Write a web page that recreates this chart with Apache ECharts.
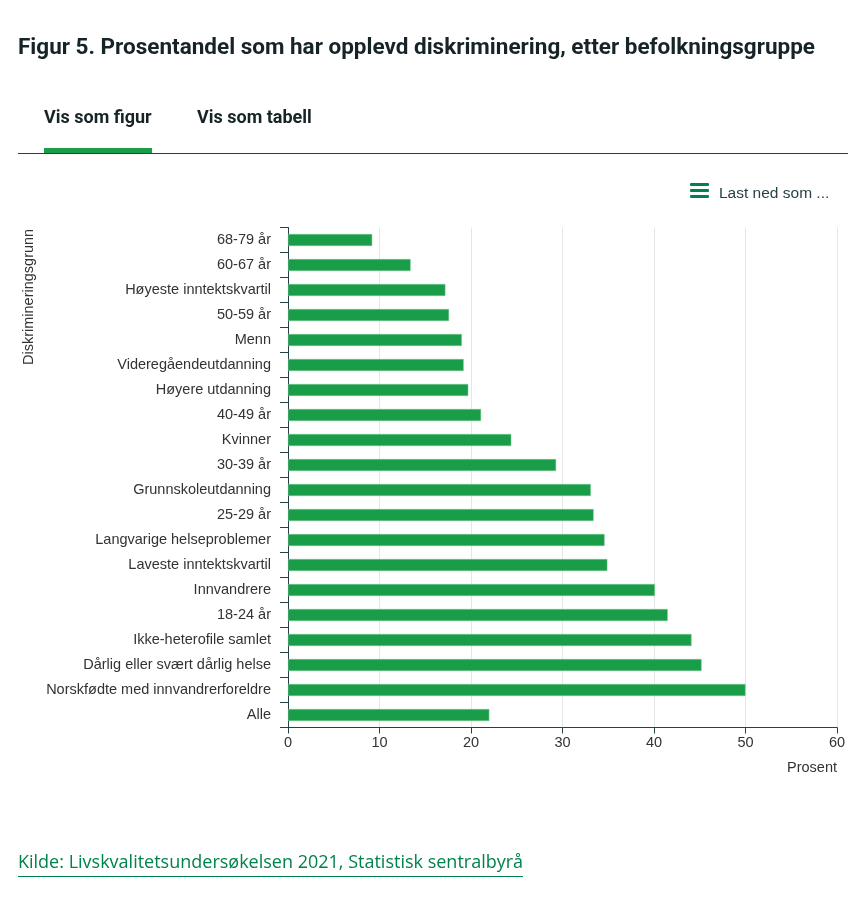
<!DOCTYPE html>
<html>
<head>
<meta charset="utf-8">
<script src="https://cdn.jsdelivr.net/npm/echarts@6/dist/echarts.min.js"></script>
<style>
  html, body { margin: 0; padding: 0; background: #fff; }
  body { width: 864px; height: 906px; position: relative; overflow: hidden; }
  #main { position: absolute; left: 0; top: 0; width: 864px; height: 906px; }
  .title { position: absolute; left: 18px; top: 33px; font: bold 22.5px Roboto, sans-serif; color: #162327; white-space: nowrap; }
  .tab { position: absolute; top: 106px; font: bold 18px Roboto, sans-serif; color: #162327; }
  .tabline { position: absolute; left: 18px; top: 153px; width: 830px; height: 1px; background: #274247; }
  .tabmark { position: absolute; left: 44px; top: 148px; width: 108px; height: 5px; background: #1a9d49; }
  .dl { position: absolute; left: 719px; top: 184px; font: 15.5px "Liberation Sans", Arial, sans-serif; color: #274247; }
  .icon { position: absolute; left: 690px; top: 183px; width: 19px; }
  .icon div { height: 3px; background: #00824d; margin-bottom: 3px; border-radius: 1px; }
  .kilde { position: absolute; left: 18px; top: 849px; font: 18px "Open Sans", sans-serif; color: #00824d; border-bottom: 1.5px solid #00824d; padding-bottom: 3px; white-space: nowrap; }
</style>
</head>
<body>
<div id="main"></div>
<div class="title">Figur 5. Prosentandel som har opplevd diskriminering, etter befolkningsgruppe</div>
<div class="tab" style="left:44px">Vis som figur</div>
<div class="tab" style="left:197px">Vis som tabell</div>
<div class="tabline"></div>
<div class="tabmark"></div>
<div class="icon"><div></div><div></div><div></div></div>
<div class="dl">Last ned som ...</div>
<div class="kilde">Kilde: Livskvalitetsundersøkelsen 2021, Statistisk sentralbyrå</div>
<script>
// befolkningsgrupper, fra toppen og ned
var groups = ['68-79 år','60-67 år','Høyeste inntektskvartil','50-59 år','Menn',
  'Videregåendeutdanning','Høyere utdanning','40-49 år','Kvinner','30-39 år',
  'Grunnskoleutdanning','25-29 år','Langvarige helseproblemer','Laveste inntektskvartil',
  'Innvandrere','18-24 år','Ikke-heterofile samlet','Dårlig eller svært dårlig helse',
  'Norskfødte med innvandrerforeldre','Alle'];
// prosent
var values = [9.2,13.4,17.2,17.6,19.0,19.2,19.7,21.1,24.4,29.3,
  33.1,33.4,34.6,34.9,40.1,41.5,44.1,45.2,50.0,22.0];
var xTicks = [0,10,20,30,40,50,60];

var myChart = echarts.init(document.getElementById('main'));
var option = {
  animation: false,
  textStyle: { fontFamily: 'Liberation Sans, Arial, sans-serif' },
  grid: { left: 288, right: 27, top: 227.5, bottom: 178.5 },
  graphic: [
    { type: 'text', rotation: Math.PI/2, x: 21, y: 365,
      style: { text: 'Diskrimineringsgrunn', font: '14.5px "Liberation Sans", Arial, sans-serif', fill: '#333' } }
  ],
  xAxis: {
    type: 'value', min: xTicks[0], max: xTicks[xTicks.length-1], interval: 10,
    name: 'Prosent', nameLocation: 'end', nameGap: 0,
    nameTextStyle: { fontSize: 14.5, color: '#333', align: 'right', verticalAlign: 'top', padding: [33,0,0,0] },
    axisLine: { show: true, lineStyle: { color: '#274247', width: 1 } },
    axisTick: { show: true, length: 6, lineStyle: { color: '#274247' } },
    axisLabel: { fontSize: 14.5, color: '#333', margin: 8 },
    splitLine: { show: true, lineStyle: { color: '#e6e6e6', width: 1 } }
  },
  yAxis: {
    type: 'category', data: groups, inverse: true,
    axisLine: { show: true, lineStyle: { color: '#274247', width: 1 } },
    axisTick: { show: true, length: 8, lineStyle: { color: '#274247' } },
    axisLabel: { fontSize: 14.5, color: '#333', margin: 17 }
  },
  series: [{
    type: 'bar', data: values, barWidth: 12,
    itemStyle: { color: '#1a9d49', borderColor: '#7fcb96', borderWidth: 0.5 }
  }]
};
myChart.setOption(option);
</script>
</body>
</html>
